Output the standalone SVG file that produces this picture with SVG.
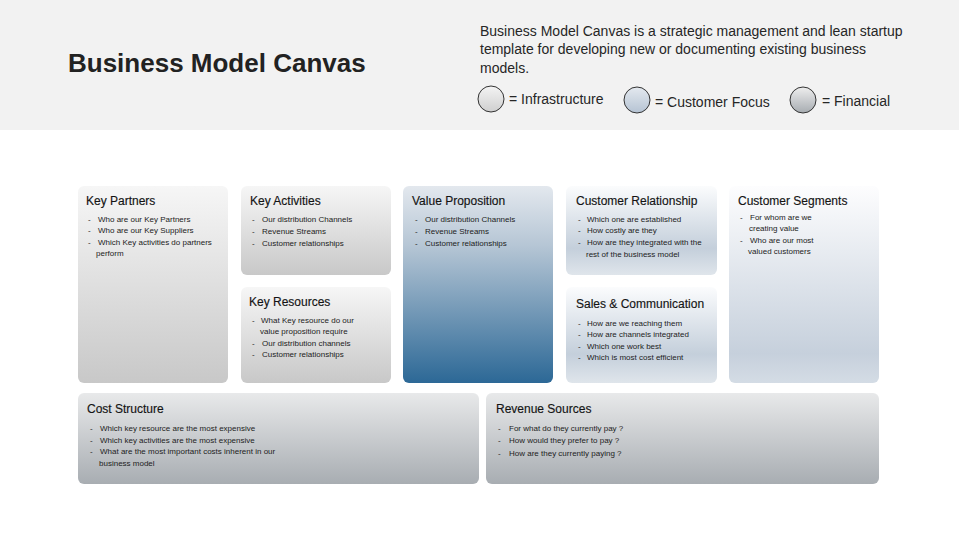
<svg xmlns="http://www.w3.org/2000/svg" width="959" height="540" viewBox="0 0 959 540">
<defs>
<linearGradient id="gInfra" x1="0" y1="0" x2="0" y2="1"><stop offset="0" stop-color="#f6f6f6"/><stop offset="1" stop-color="#c8c8c8"/></linearGradient>
<linearGradient id="gVal" x1="0" y1="0" x2="0" y2="1"><stop offset="0" stop-color="#e3e8ee"/><stop offset="0.3" stop-color="#b6c6d5"/><stop offset="1" stop-color="#2c6896"/></linearGradient>
<linearGradient id="gCust" x1="0" y1="0" x2="0" y2="1"><stop offset="0" stop-color="#fbfcfd"/><stop offset="0.7" stop-color="#c4cfdb"/><stop offset="1" stop-color="#dfe5eb"/></linearGradient>
<linearGradient id="gSeg" x1="0" y1="0" x2="0" y2="1"><stop offset="0" stop-color="#fdfdfe"/><stop offset="0.85" stop-color="#c6d0dc"/><stop offset="1" stop-color="#d4dce5"/></linearGradient>
<linearGradient id="gFin" x1="0" y1="0" x2="0" y2="1"><stop offset="0" stop-color="#e8e9ea"/><stop offset="1" stop-color="#a8adb2"/></linearGradient>
<linearGradient id="cInfra" x1="0" y1="0" x2="0" y2="1"><stop offset="0" stop-color="#f4f4f4"/><stop offset="1" stop-color="#cfcfcf"/></linearGradient>
<linearGradient id="cCust" x1="0" y1="0" x2="0" y2="1"><stop offset="0" stop-color="#e4e9ef"/><stop offset="1" stop-color="#b5c3d3"/></linearGradient>
<linearGradient id="cFin" x1="0" y1="0" x2="0" y2="1"><stop offset="0" stop-color="#eeeeee"/><stop offset="1" stop-color="#a7acb1"/></linearGradient>
</defs>
<style>
text{font-family:"Liberation Sans",Arial,sans-serif;fill:#1e1e1e}
.title{font-size:26px;font-weight:bold;fill:#222}
.desc{font-size:14px;fill:#262626}
.leg{font-size:14px;fill:#262626}
.h{font-size:12px;fill:#141414;stroke:#141414;stroke-width:0.15}
.b{font-size:8px;fill:#222}
.lc{stroke:#333;stroke-width:1}
</style>
<rect x="0" y="0" width="959" height="130" fill="#f2f2f2"/>
<rect x="0" y="130" width="959" height="410" fill="#ffffff"/>
<text class="title" x="68" y="72">Business Model Canvas</text>
<text class="desc" x="480" y="36">Business Model Canvas is a strategic management and lean startup</text>
<text class="desc" x="480" y="54">template for developing new or documenting existing business</text>
<text class="desc" x="480" y="73">models.</text>
<g id="legend">
<circle class="lc" cx="491" cy="99" r="13" fill="url(#cInfra)"/>
<text class="leg" x="509" y="104">= Infrastructure</text>
<circle class="lc" cx="637" cy="100" r="13" fill="url(#cCust)"/>
<text class="leg" x="655" y="107">= Customer Focus</text>
<circle class="lc" cx="803" cy="100" r="13" fill="url(#cFin)"/>
<text class="leg" x="822" y="106">= Financial</text>
</g>
<g id="connectors"></g>
<g id="key-partners">
<rect x="78" y="186" width="150" height="197" rx="6" fill="url(#gInfra)"/>
<text class="h" x="86" y="205">Key Partners</text>
<text class="b" x="88" y="222">-</text><text class="b" x="98" y="222">Who are our Key Partners</text>
<text class="b" x="88" y="233">-</text><text class="b" x="98" y="233">Who are our Key Suppliers</text>
<text class="b" x="88" y="245">-</text><text class="b" x="98" y="245">Which Key activities do partners</text>
<text class="b" x="96" y="256">perform</text>
</g>
<g id="key-activities">
<rect x="241" y="186" width="150" height="89" rx="6" fill="url(#gInfra)"/>
<text class="h" x="250" y="205">Key Activities</text>
<text class="b" x="252" y="222">-</text><text class="b" x="262" y="222">Our distribution Channels</text>
<text class="b" x="252" y="234">-</text><text class="b" x="262" y="234">Revenue Streams</text>
<text class="b" x="252" y="246">-</text><text class="b" x="262" y="246">Customer relationships</text>
</g>
<g id="key-resources">
<rect x="241" y="287" width="150" height="96" rx="6" fill="url(#gInfra)"/>
<text class="h" x="249" y="306">Key Resources</text>
<text class="b" x="252" y="323">-</text><text class="b" x="261" y="323">What Key resource do our</text>
<text class="b" x="260" y="334">value proposition require</text>
<text class="b" x="252" y="346">-</text><text class="b" x="262" y="346">Our distribution channels</text>
<text class="b" x="252" y="357">-</text><text class="b" x="262" y="357">Customer relationships</text>
</g>
<g id="value-proposition">
<rect x="403" y="186" width="150" height="197" rx="6" fill="url(#gVal)"/>
<text class="h" x="412" y="205">Value Proposition</text>
<text class="b" x="415" y="222">-</text><text class="b" x="425" y="222">Our distribution Channels</text>
<text class="b" x="415" y="234">-</text><text class="b" x="425" y="234">Revenue Streams</text>
<text class="b" x="415" y="246">-</text><text class="b" x="425" y="246">Customer relationships</text>
</g>
<g id="customer-relationship">
<rect x="566" y="186" width="151" height="89" rx="6" fill="url(#gCust)"/>
<text class="h" x="576" y="205">Customer Relationship</text>
<text class="b" x="578" y="222">-</text><text class="b" x="587" y="222">Which one are established</text>
<text class="b" x="578" y="233">-</text><text class="b" x="587" y="233">How costly are they</text>
<text class="b" x="578" y="245">-</text><text class="b" x="587" y="245">How are they integrated with the</text>
<text class="b" x="586" y="257">rest of the business model</text>
</g>
<g id="sales-communication">
<rect x="566" y="287" width="151" height="96" rx="6" fill="url(#gCust)"/>
<text class="h" x="576" y="308">Sales &amp; Communication</text>
<text class="b" x="578" y="326">-</text><text class="b" x="587" y="326">How are we reaching them</text>
<text class="b" x="578" y="337">-</text><text class="b" x="587" y="337">How are channels integrated</text>
<text class="b" x="578" y="349">-</text><text class="b" x="587" y="349">Which one work best</text>
<text class="b" x="578" y="360">-</text><text class="b" x="587" y="360">Which is most cost efficient</text>
</g>
<g id="customer-segments">
<rect x="729" y="186" width="150" height="197" rx="6" fill="url(#gSeg)"/>
<text class="h" x="738" y="205">Customer Segments</text>
<text class="b" x="740" y="220">-</text><text class="b" x="750" y="220"> For whom are we</text>
<text class="b" x="749" y="231">creating value</text>
<text class="b" x="740" y="243">-</text><text class="b" x="750" y="243"> Who are our most</text>
<text class="b" x="748" y="254">valued customers</text>
</g>
<g id="cost-structure">
<rect x="78" y="393" width="401" height="91" rx="6" fill="url(#gFin)"/>
<text class="h" x="87" y="413">Cost Structure</text>
<text class="b" x="90" y="431">-</text><text class="b" x="100" y="431">Which key resource are the most expensive</text>
<text class="b" x="90" y="443">-</text><text class="b" x="100" y="443">Which key activities are the most expensive</text>
<text class="b" x="90" y="454">-</text><text class="b" x="100" y="454">What are the most important costs inherent in our</text>
<text class="b" x="99" y="466">business model</text>
</g>
<g id="revenue-sources">
<rect x="486" y="393" width="393" height="91" rx="6" fill="url(#gFin)"/>
<text class="h" x="496" y="413">Revenue Sources</text>
<text class="b" x="498" y="431">-</text><text class="b" x="509" y="431">For what do they currently pay ?</text>
<text class="b" x="498" y="443">-</text><text class="b" x="509" y="443">How would they prefer to pay ?</text>
<text class="b" x="498" y="456">-</text><text class="b" x="509" y="456">How are they currently paying ?</text>
</g>
</svg>
